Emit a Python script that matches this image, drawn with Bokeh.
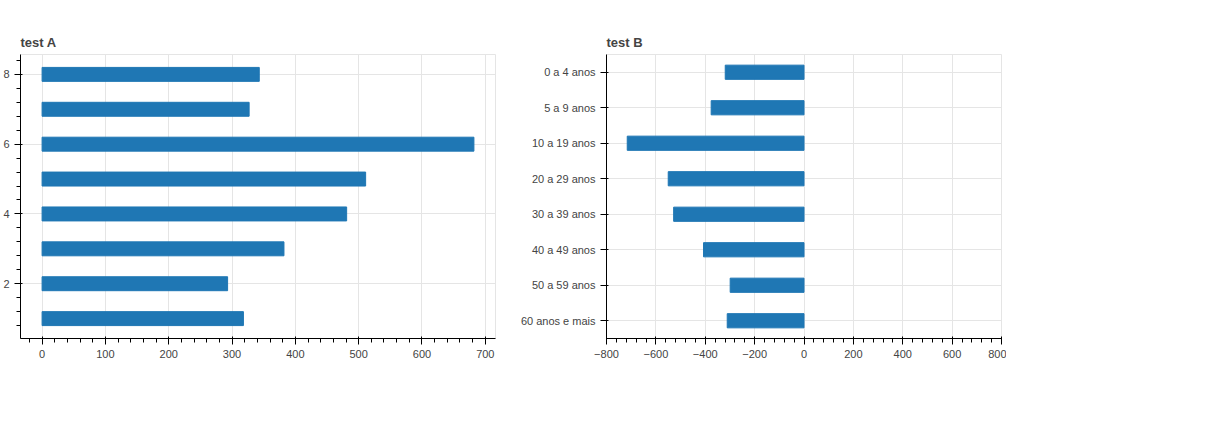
from bokeh.plotting import figure
from bokeh.models import ColumnDataSource, FixedTicker, Range1d
from bokeh.layouts import row
from bokeh.embed import file_html
from bokeh.resources import INLINE
from bokeh.core.properties import value

categories = ["0 a 4 anos", "5 a 9 anos", "10 a 19 anos", "20 a 29 anos",
              "30 a 39 anos", "40 a 49 anos", "50 a 59 anos", "60 anos e mais"]
masc_2000 = [319, 376, 716, 550, 528, 407, 299, 311]
fem_2000 = [343, 327, 682, 511, 481, 382, 293, 318]

ypos = [8 - i for i in range(8)]
pa = figure(width=500, height=400, output_backend="svg", toolbar_location=None, title="test A")
pa.hbar(y=ypos, right=fem_2000, left=0, height=0.4)

pb = figure(width=500, height=400, output_backend="svg", toolbar_location=None, title="test B",
            x_range=Range1d(-800, 800), y_range=Range1d(0.5, 8.5),
            min_border_left=100, min_border_top=54, min_border_bottom=62)
pb.hbar(y=ypos, right=[-v for v in masc_2000], left=0, height=0.4)
pb.yaxis[0].ticker = FixedTicker(ticks=ypos)
pb.yaxis[0].major_label_overrides = {y: c for y, c in zip(ypos, categories)}

layout = row(pa, pb, spacing=6)
open("out.html", "w").write(file_html(layout, INLINE))
